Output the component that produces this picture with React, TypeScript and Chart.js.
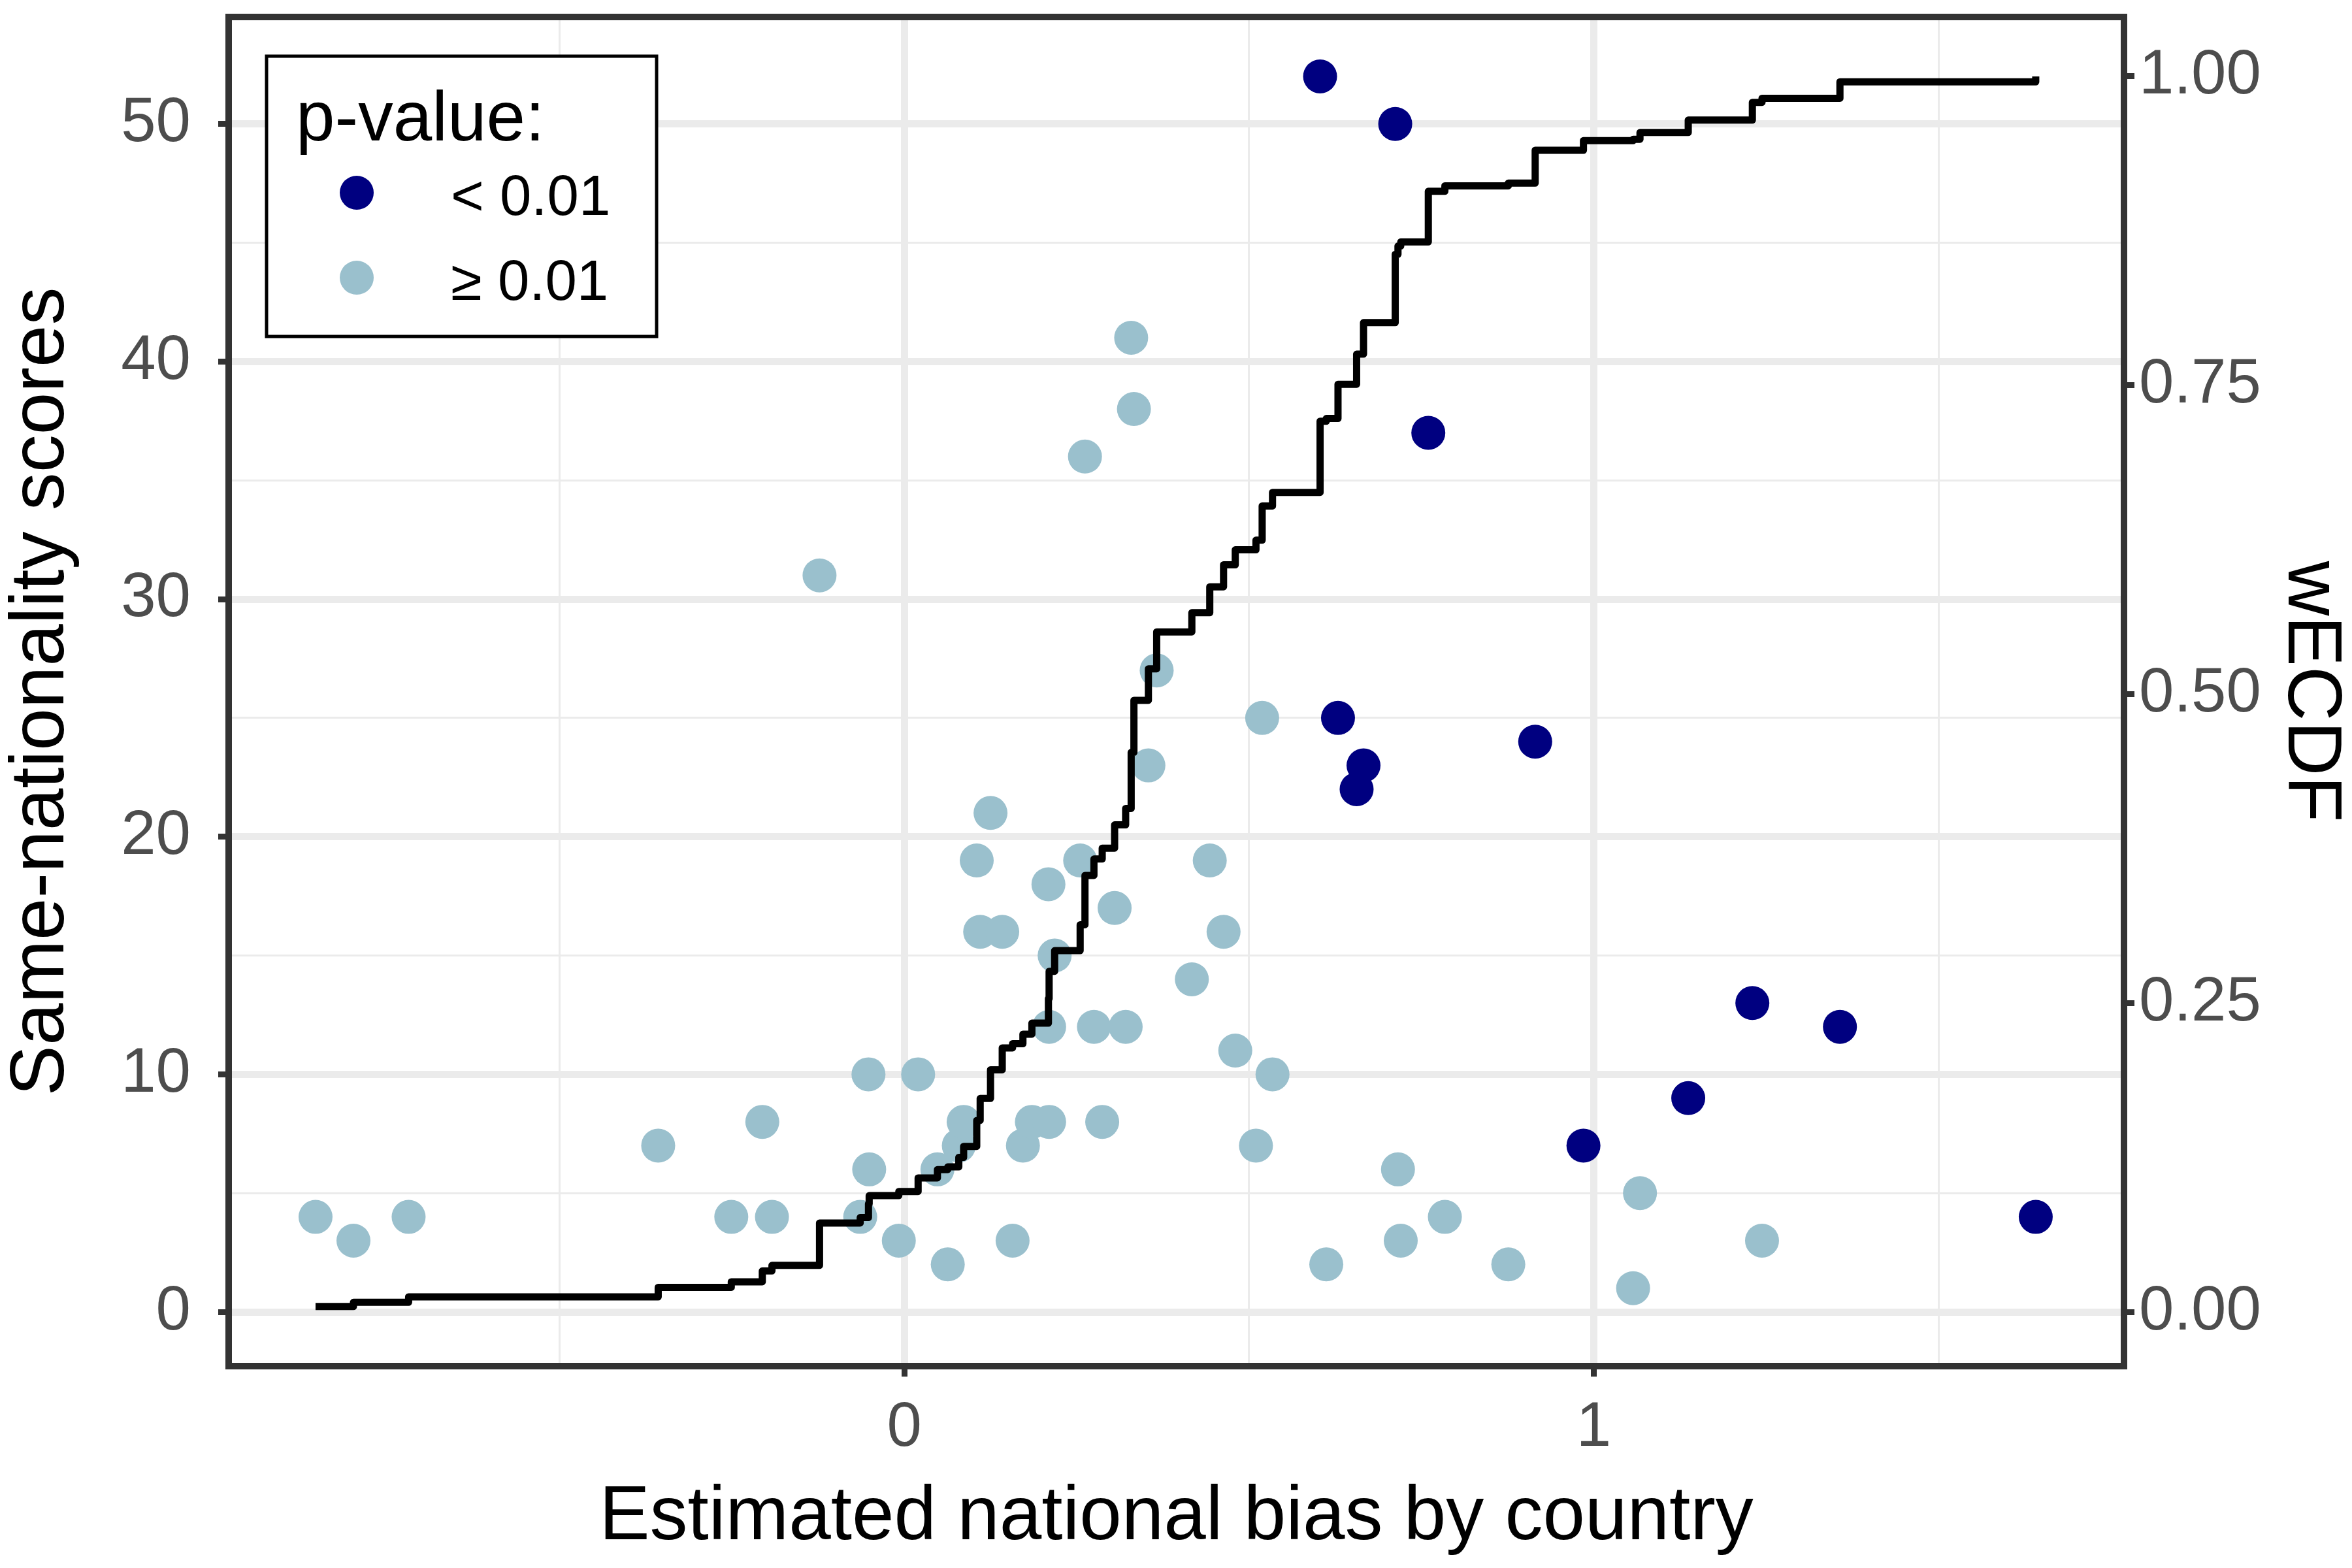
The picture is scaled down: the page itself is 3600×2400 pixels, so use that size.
import React, { useEffect, useRef } from "react";
import { Chart, registerables } from "chart.js";

Chart.register(...registerables);

// ---------- data ----------
// p-value < 0.01
const sigX = [0.603, 0.712, 0.760, 0.629, 0.666, 0.656, 0.915, 1.230, 1.357, 1.137, 0.985, 1.641];
const sigY = [52, 50, 37, 25, 23, 22, 24, 13, 12, 9, 7, 4];
// p-value >= 0.01
const nsX = [
  -0.854, -0.799, -0.719, -0.357, -0.251, -0.206, -0.192, -0.123, -0.064, -0.052,
  -0.051, -0.008, 0.020, 0.048, 0.063, 0.079, 0.086, 0.105, 0.110, 0.125,
  0.142, 0.157, 0.172, 0.185, 0.209, 0.210, 0.210, 0.218, 0.255, 0.262,
  0.275, 0.287, 0.305, 0.321, 0.329, 0.333, 0.354, 0.366, 0.417, 0.443,
  0.463, 0.480, 0.510, 0.519, 0.534, 0.612, 0.716, 0.720, 0.784, 0.876,
  1.057, 1.067, 1.244,
];
const nsY = [
  4, 3, 4, 7, 4, 8, 4, 31, 4, 10,
  6, 3, 10, 6, 2, 7, 8, 19, 16, 21,
  16, 3, 7, 8, 18, 8, 12, 15, 19, 36,
  12, 8, 17, 12, 41, 38, 23, 27, 14, 19,
  16, 11, 7, 25, 10, 2, 6, 3, 4, 2,
  1, 5, 3,
];
// weighted ECDF step line (right axis)
const ecdfX = [
  -0.854, -0.799, -0.719, -0.357, -0.251, -0.206, -0.192, -0.123, -0.064, -0.052,
  -0.051, -0.008, 0.020, 0.048, 0.063, 0.079, 0.086, 0.105, 0.110, 0.125,
  0.142, 0.157, 0.172, 0.185, 0.209, 0.210, 0.210, 0.218, 0.255, 0.262,
  0.275, 0.287, 0.305, 0.321, 0.329, 0.333, 0.354, 0.366, 0.417, 0.443,
  0.463, 0.480, 0.510, 0.519, 0.534, 0.603, 0.612, 0.629, 0.656, 0.666,
  0.712, 0.716, 0.720, 0.760, 0.784, 0.876, 0.915, 0.985, 1.057, 1.067,
  1.137, 1.230, 1.244, 1.357, 1.641,
];
const ecdfY = [
  0.0044, 0.0078, 0.0122, 0.0199, 0.0244, 0.0332, 0.0377, 0.0720, 0.0764, 0.0875,
  0.0941, 0.0975, 0.1085, 0.1152, 0.1174, 0.1251, 0.1340, 0.1550, 0.1728, 0.1960,
  0.2137, 0.2171, 0.2248, 0.2337, 0.2536, 0.2625, 0.2757, 0.2924, 0.3134, 0.3533,
  0.3666, 0.3754, 0.3942, 0.4075, 0.4529, 0.4950, 0.5205, 0.5504, 0.5659, 0.5869,
  0.6047, 0.6168, 0.6246, 0.6523, 0.6633, 0.7209, 0.7231, 0.7508, 0.7752, 0.8007,
  0.8560, 0.8627, 0.8660, 0.9070, 0.9114, 0.9136, 0.9402, 0.9480, 0.9491, 0.9546,
  0.9646, 0.9790, 0.9823, 0.9956, 1.0000,
];

// ---------- ticks / labels ----------
const xTicks = [-0.5, 0, 0.5, 1, 1.5];
const xLabelTicks = [0, 1];
const yTicks = [0, 5, 10, 15, 20, 25, 30, 35, 40, 45, 50];
const yLabelTicks = [0, 10, 20, 30, 40, 50];
const y2Ticks = [0, 0.25, 0.5, 0.75, 1];
const y2Labels = ["0.00", "0.25", "0.50", "0.75", "1.00"];

const xTitle = "Estimated national bias by country";
const yTitle = "Same-nationality scores";
const y2Title = "wECDF";
const legendTitle = "p-value:";
const sigLabel = "< 0.01";
const nsLabel = "\u2265 0.01";

const X_MIN = -0.98;
const X_MAX = 1.769;
const Y_MIN = -2.28;
const Y_MAX = 54.5;
const SEC_RATIO = 52;

const FONT = "'Liberation Sans', Arial, Helvetica, sans-serif";
const GRID = "#EBEBEB";
const DARK = "#333333";
const NAVY = "#000080";
const LIGHT = "#9AC0CD";
const MAJOR_W = 11;
const MINOR_W = 3;
const TICK_W = 9;

const panelLegendPlugin = {
  id: "panelLegend",
  afterDatasetsDraw(chart: any) {
    const { ctx, chartArea: a } = chart;
    ctx.save();
    ctx.strokeStyle = DARK;
    ctx.lineWidth = 10;
    ctx.strokeRect(a.left, a.top, a.right - a.left, a.bottom - a.top);
    ctx.restore();
  },
  afterDraw(chart: any) {
    const { ctx, chartArea: a } = chart;
    const bx = a.left + 58;
    const by = a.top + 60;
    const bw = 597;
    const bh = 429;
    ctx.save();
    ctx.fillStyle = "#FFFFFF";
    ctx.fillRect(bx, by, bw, bh);
    ctx.strokeStyle = "#000000";
    ctx.lineWidth = 5;
    ctx.strokeRect(bx, by, bw, bh);
    ctx.fillStyle = "#000000";
    ctx.textAlign = "left";
    ctx.textBaseline = "alphabetic";
    ctx.font = `107px ${FONT}`;
    ctx.fillText(legendTitle, bx + 45, by + 129);
    const items = [chart.data.datasets[1], chart.data.datasets[2]];
    items.forEach((ds: any, i: number) => {
      const cy = by + 209 + i * 130;
      ctx.beginPath();
      ctx.fillStyle = ds.backgroundColor;
      ctx.arc(bx + 138, cy, 26, 0, Math.PI * 2);
      ctx.fill();
      ctx.fillStyle = "#000000";
      ctx.font = `87px ${FONT}`;
      ctx.fillText(ds.label, bx + 282, cy + 34);
    });
    ctx.restore();
  },
};

const noScalePadding = (s: any) => {
  s.paddingTop = 0;
  s.paddingBottom = 0;
  s.paddingLeft = 0;
  s.paddingRight = 0;
};

export default function App() {
  const canvasRef = useRef<HTMLCanvasElement | null>(null);

  useEffect(() => {
    document.body.style.margin = "0";
    const canvas = canvasRef.current;
    if (!canvas) return;

    const tickFont = { family: FONT, size: 96 };
    const titleFont = { family: FONT, size: 116, lineHeight: 1 };

    const chart = new Chart(canvas, {
      type: "scatter",
      data: {
        datasets: [
          {
            type: "line",
            label: "wECDF",
            data: ecdfX.map((x, i) => ({ x, y: ecdfY[i] })),
            xAxisID: "x",
            yAxisID: "y2",
            borderColor: "#000000",
            borderWidth: 11,
            borderJoinStyle: "round",
            borderCapStyle: "butt",
            pointRadius: 0,
            pointHoverRadius: 0,
            stepped: "before",
            fill: false,
            tension: 0,
            order: 0,
          } as any,
          {
            type: "scatter",
            label: sigLabel,
            data: sigX.map((x, i) => ({ x, y: sigY[i] })),
            xAxisID: "x",
            yAxisID: "y",
            backgroundColor: NAVY,
            borderWidth: 0,
            pointRadius: 26,
            pointHoverRadius: 26,
            order: 1,
          },
          {
            type: "scatter",
            label: nsLabel,
            data: nsX.map((x, i) => ({ x, y: nsY[i] })),
            xAxisID: "x",
            yAxisID: "y",
            backgroundColor: LIGHT,
            borderWidth: 0,
            pointRadius: 26,
            pointHoverRadius: 26,
            order: 2,
          },
        ],
      },
      options: {
        responsive: false,
        animation: false,
        devicePixelRatio: 1,
        events: [],
        layout: { padding: { top: 26, left: 0, right: 0, bottom: 0 } },
        plugins: {
          legend: { display: false },
          tooltip: { enabled: false },
        },
        scales: {
          x: {
            type: "linear",
            position: "bottom",
            min: X_MIN,
            max: X_MAX,
            afterBuildTicks: (s: any) => {
              s.ticks = xTicks.map((v) => ({ value: v }));
            },
            afterFit: (s: any) => {
              s.height = 309;
              noScalePadding(s);
            },
            ticks: {
              autoSkip: false,
              maxRotation: 0,
              minRotation: 0,
              padding: 22,
              color: "#4D4D4D",
              font: tickFont,
              callback: (v: any) => (xLabelTicks.includes(Number(v)) ? String(v) : ""),
            },
            grid: {
              color: GRID,
              lineWidth: (c: any) => (xLabelTicks.includes(c.tick?.value) ? MAJOR_W : MINOR_W),
              tickColor: (c: any) => (xLabelTicks.includes(c.tick?.value) ? DARK : "rgba(0,0,0,0)"),
              tickWidth: (c: any) => (xLabelTicks.includes(c.tick?.value) ? TICK_W : 0),
              tickLength: 16,
              drawTicks: true,
            },
            border: { display: false },
            title: {
              display: true,
              text: xTitle,
              color: "#000000",
              font: titleFont,
              padding: { top: 0, bottom: 18 },
            },
          },
          y: {
            type: "linear",
            position: "left",
            min: Y_MIN,
            max: Y_MAX,
            afterBuildTicks: (s: any) => {
              s.ticks = yTicks.map((v) => ({ value: v }));
            },
            afterFit: (s: any) => {
              s.width = 350;
              noScalePadding(s);
            },
            ticks: {
              autoSkip: false,
              padding: 42,
              color: "#4D4D4D",
              font: tickFont,
              callback: (v: any) => (yLabelTicks.includes(Number(v)) ? String(v) : ""),
            },
            grid: {
              color: GRID,
              lineWidth: (c: any) => (yLabelTicks.includes(c.tick?.value) ? MAJOR_W : MINOR_W),
              tickColor: (c: any) => (yLabelTicks.includes(c.tick?.value) ? DARK : "rgba(0,0,0,0)"),
              tickWidth: (c: any) => (yLabelTicks.includes(c.tick?.value) ? TICK_W : 0),
              tickLength: 16,
              drawTicks: true,
            },
            border: { display: false },
            title: {
              display: true,
              text: yTitle,
              color: "#000000",
              font: titleFont,
              padding: { top: 7, bottom: 0 },
            },
          },
          y2: {
            type: "linear",
            position: "right",
            min: Y_MIN / SEC_RATIO,
            max: Y_MAX / SEC_RATIO,
            afterBuildTicks: (s: any) => {
              s.ticks = y2Ticks.map((v) => ({ value: v }));
            },
            afterFit: (s: any) => {
              s.width = 349;
              noScalePadding(s);
            },
            ticks: {
              autoSkip: false,
              padding: 7,
              color: "#4D4D4D",
              font: tickFont,
              callback: (v: any) => {
                const i = y2Ticks.indexOf(Number(v));
                return i >= 0 ? y2Labels[i] : "";
              },
            },
            grid: {
              drawOnChartArea: false,
              color: GRID,
              tickColor: DARK,
              tickWidth: TICK_W,
              tickLength: 16,
              drawTicks: true,
            },
            border: { display: false },
            title: {
              display: true,
              text: y2Title,
              color: "#000000",
              font: titleFont,
              padding: { top: 7, bottom: 0 },
            },
          },
        },
      } as any,
      plugins: [panelLegendPlugin],
    });

    return () => {
      chart.destroy();
    };
  }, []);

  return (
    <div style={{ position: "absolute", left: 0, top: 0, width: 3600, height: 2400, background: "#FFFFFF" }}>
      <canvas ref={canvasRef} width={3600} height={2400} style={{ width: 3600, height: 2400, display: "block" }} />
    </div>
  );
}
